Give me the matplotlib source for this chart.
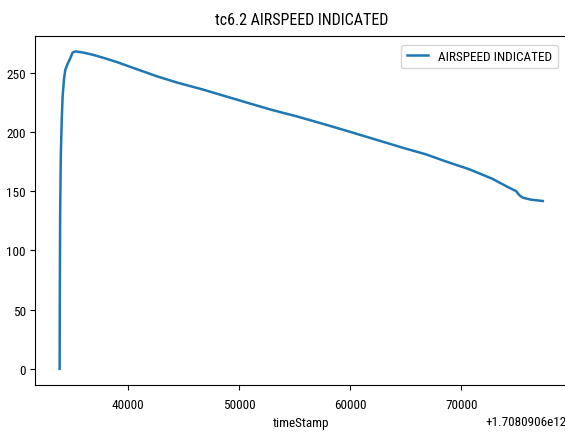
import matplotlib
matplotlib.use("Agg")
import matplotlib.pyplot as plt
from matplotlib import font_manager
import numpy as np

# readings (ms, relative to the 1.7080906e12 offset)
base = 1708090600000
t_rel = [33855, 33870, 33900, 33960, 34050, 34124, 34250, 34367, 34550, 34753,
         35022, 35265, 36000, 36909, 38000, 39012, 40500, 42606, 44500, 46792,
         48293, 50988, 53000, 55184, 57500, 59820, 62965, 64800, 66864, 68500,
         70755, 72800, 74200, 74950, 75250, 75550, 76300, 77350]
airspeed = [0, 60, 130, 180, 212, 230, 245, 252.5, 257, 261,
            267, 268, 267, 265, 262, 259, 254, 247, 241.5, 235.7,
            231.5, 224, 218.5, 213.2, 207, 200.6, 191.7, 186.5, 181, 175.5,
            168.4, 160.5, 153.5, 150, 146.5, 144.5, 142.8, 141.7]

title = "tc6.2 AIRSPEED INDICATED"
series_name = "AIRSPEED INDICATED"

# the reference text is narrow, use a condensed face when one is installed
names = {f.name for f in font_manager.fontManager.ttflist}
family = "DejaVu Sans"
for cand in ["DejaVu Sans Condensed", "Liberation Sans Narrow",
             "Roboto Condensed", "Noto Sans Condensed", "Open Sans Condensed"]:
    if cand in names:
        family = cand
        break
plt.rcParams["font.family"] = [family, "DejaVu Sans"]

fig = plt.figure(figsize=(5.65, 4.35), dpi=100)
ax = fig.add_axes([0.0628, 0.1133, 0.9407, 0.8027])

x = np.array(t_rel, dtype=float) + base
ax.plot(x, airspeed, linewidth=1.8, c="#1f77b4", label=series_name)
ax.set_yticks(np.arange(0, 251, 50))
ax.set_xticks(base + np.arange(40000, 70001, 10000))
ax.tick_params(axis="both", labelsize=9.5)
ax.tick_params(axis="x", pad=6)
ax.xaxis.get_offset_text().set_fontsize(9.5)
ax.legend(loc="upper right", fontsize=9.5, handlelength=1.6,
          borderaxespad=0.7)
ax.set_title(title, fontsize=11.5, pad=8)
ax.set_xlabel("timeStamp", fontsize=9.5)

fig.savefig("out.png", dpi=100)
